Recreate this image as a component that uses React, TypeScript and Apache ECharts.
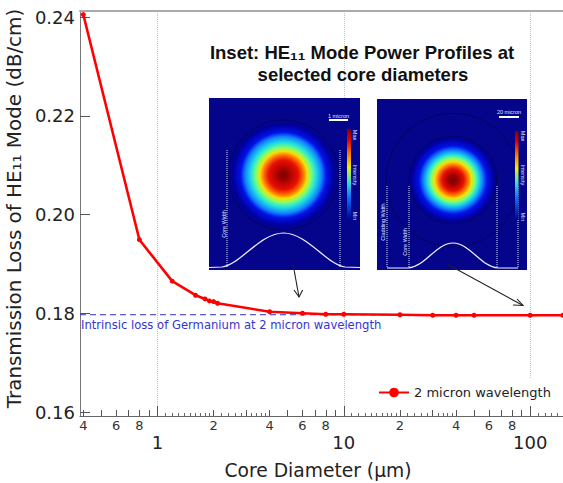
import React, { useEffect, useRef } from "react";
import * as echarts from "echarts";

const diameters = [0.4, 0.8, 1.2, 1.6, 1.8, 1.9, 2, 2.1, 4, 6, 8, 10, 20, 30, 40, 50, 100, 150];
const losses = [0.2405, 0.1949, 0.1865, 0.18365, 0.1829, 0.1825, 0.18237, 0.18203, 0.1803, 0.18, 0.1798, 0.1798, 0.1797, 0.1796, 0.1796, 0.1796, 0.1796, 0.1796];
const intrinsicX = [0.384, 150];
const intrinsicY = [0.1797, 0.1797];
const yTicks = [0.16, 0.18, 0.2, 0.22, 0.24];
const xMajor = [1, 10, 100];
const xLabelled = [0.4, 0.6, 0.8, 2, 4, 6, 8, 20, 40, 60, 80];
const xMedium = [0.4, 0.5, 0.6, 0.7, 0.8, 0.9, 2, 3, 4, 5, 6, 7, 8, 9, 20, 30, 40, 50, 60, 70, 80, 90];
const xShort = [
  1.1, 1.2, 1.3, 1.4, 1.5, 1.6, 1.7, 1.8, 1.9, 2.2, 2.4, 2.6, 2.8, 3.2, 3.4, 3.6, 3.8,
  11, 12, 13, 14, 15, 16, 17, 18, 19, 22, 24, 26, 28, 32, 34, 36, 38,
  110, 120, 130, 140,
];

const FONT = "DejaVu Sans";
const X_MIN = 0.384;
const X_MAX = 150;

const JET1: [number, string][] = [
  [0, "#780000"], [0.09, "#a00000"], [0.27, "#e81000"], [0.36, "#ff7000"], [0.43, "#f8e000"],
  [0.5, "#80ff70"], [0.59, "#20e0e0"], [0.7, "#1080ff"], [0.78, "#0010e8"], [0.92, "#00009a"], [1, "#05058c"],
];
const JET2: [number, string][] = [
  [0, "#780000"], [0.11, "#a00000"], [0.25, "#e81000"], [0.34, "#ff7000"], [0.42, "#f8e000"],
  [0.5, "#80ff70"], [0.58, "#20e0e0"], [0.68, "#1080ff"], [0.78, "#0010e8"], [0.95, "#00009a"], [1, "#05058c"],
];
const BAR_STOPS: [number, string][] = [
  [0, "#800000"], [0.12, "#e00000"], [0.28, "#ff8000"], [0.42, "#f0f000"],
  [0.58, "#40e0d0"], [0.75, "#1070ff"], [1, "#000090"],
];

echarts.graphic.registerShape(
  "profileA",
  echarts.graphic.extendPath(
    "M209 267.5 L222 267 C240 265 260 233 283.5 233 C307 233 327 265 345 267 L360 267.5",
    {}
  )
);
echarts.graphic.registerShape(
  "profileB",
  echarts.graphic.extendPath(
    "M387 268 L408 268 C425 267 436 243 453 243 C470 243 481 267 498 268 L518 268",
    {}
  )
);

const stops = (list: [number, string][]) => list.map(([offset, color]) => ({ offset, color }));
const rtext = (x: number, y: number, text: string, rotation: number, fontSize = 5.5) => ({
  type: "text",
  x,
  y,
  rotation,
  z: 31,
  style: { text, fill: "#dfe6ff", fontSize, fontFamily: "Liberation Sans", align: "center", verticalAlign: "middle" },
});
const vline = (x: number, y1: number, y2: number) => ({
  type: "line",
  z: 31,
  shape: { x1: x, y1, x2: x, y2 },
  style: { stroke: "#d8e0ff", lineWidth: 1, lineDash: [1, 1] },
});
const circleLine = (cx: number, cy: number, r: number) => ({
  type: "circle",
  z: 31,
  shape: { cx, cy, r },
  style: { fill: "none", stroke: "#03035f", lineWidth: 1 },
});
const box = (x: number, y: number, width: number, height: number) => ({
  type: "rect",
  z: 30,
  shape: { x, y, width, height },
  style: { fill: "#05058c" },
});
const blob = (cx: number, cy: number, r: number, list: [number, string][]) => ({
  type: "circle",
  z: 31,
  shape: { cx, cy, r },
  style: { fill: { type: "radial", x: 0.5, y: 0.5, r: 0.5, colorStops: stops(list) } },
});
const colorBar = (x: number, y: number, width: number, height: number) => ({
  type: "rect",
  z: 31,
  shape: { x, y, width, height },
  style: { fill: { type: "linear", x: 0, y: 0, x2: 0, y2: 1, colorStops: stops(BAR_STOPS) } },
});
const scaleBar = (x: number, y: number, width: number) => ({
  type: "rect",
  z: 31,
  shape: { x, y, width, height: 2 },
  style: { fill: "#ffffff" },
});
const arrow = (x1: number, y1: number, x2: number, y2: number, wing: number[]) => [
  { type: "line", z: 40, shape: { x1, y1, x2, y2 }, style: { stroke: "#222", lineWidth: 1.1 } },
  {
    type: "polyline",
    z: 40,
    shape: { points: [[wing[0], wing[1]], [x2, y2], [wing[2], wing[3]]] },
    style: { stroke: "#222", lineWidth: 1.1, fill: "none" },
  },
];

const hiddenX = {
  type: "log" as const,
  logBase: 10,
  min: X_MIN,
  max: X_MAX,
  position: "bottom" as const,
  splitLine: { show: false },
  minorTick: { show: false },
  minorSplitLine: { show: false },
  axisLine: { show: false },
  axisLabel: { show: false },
};

export default function App() {
  const ref = useRef<HTMLDivElement>(null);
  useEffect(() => {
    const chart = echarts.init(ref.current!, null, { renderer: "svg" });
    chart.setOption({
      animation: false,
      backgroundColor: "#ffffff",
      textStyle: { fontFamily: FONT },
      grid: { left: 80, right: 0, top: 11, bottom: 67, containLabel: false, outerBoundsMode: "none" },
      legend: {
        data: ["2 micron wavelength"],
        left: 373,
        top: 379,
        padding: [7, 10, 7, 5],
        itemWidth: 30,
        itemHeight: 12,
        backgroundColor: "#ffffff",
        textStyle: { fontSize: 13, color: "#222", fontFamily: FONT },
        z: 20,
      },
      xAxis: [
        {
          ...hiddenX,
          name: "Core Diameter (µm)",
          nameLocation: "middle",
          nameGap: 45,
          nameTextStyle: { fontSize: 18.7, color: "#222", fontFamily: FONT, padding: [0, 7, 0, 0] },
          axisLine: { show: true, lineStyle: { color: "#666", width: 1 } },
          axisTick: { show: true, inside: true, length: 10, customValues: xMajor, lineStyle: { color: "#555" } },
          axisLabel: {
            show: true,
            customValues: xMajor,
            margin: 17,
            fontSize: 18,
            color: "#222",
            fontFamily: FONT,
            formatter: (v: number) => String(Math.round(v)),
          },
          splitLine: { show: true, customValues: xMajor, lineStyle: { color: "#bcbcf0", type: [1, 1], width: 1 } },
        },
        {
          ...hiddenX,
          axisTick: { show: true, inside: true, length: 6, customValues: xMedium, lineStyle: { color: "#555" } },
          axisLabel: {
            show: true,
            customValues: xLabelled,
            margin: 3,
            fontSize: 13,
            color: "#333",
            fontFamily: FONT,
            hideOverlap: false,
            formatter: (v: number) => String(Number(v.toPrecision(1))).replace(/[0.]/g, ""),
          },
        },
        {
          ...hiddenX,
          axisTick: { show: true, inside: true, length: 3, customValues: xShort, lineStyle: { color: "#666" } },
        },
        {
          ...hiddenX,
          position: "top",
          axisTick: { show: false },
          axisLine: { show: true, lineStyle: { color: "#aaaaaa", width: 2 } },
        },
      ],
      yAxis: {
        type: "value",
        min: 0.15919,
        max: 0.24122,
        name: "Transmission Loss of HE₁₁ Mode (dB/cm)",
        nameLocation: "middle",
        nameGap: 48,
        nameTextStyle: { fontSize: 19.9, color: "#222", fontFamily: FONT, padding: [0, 0, 0, 10] },
        splitLine: { show: false },
        axisLine: { show: true, lineStyle: { color: "#777", width: 1 } },
        axisTick: { show: true, inside: true, length: 10, customValues: yTicks, lineStyle: { color: "#555" } },
        axisLabel: {
          customValues: yTicks,
          margin: 5,
          fontSize: 18,
          color: "#222",
          fontFamily: FONT,
          formatter: (v: number) => v.toFixed(2),
        },
      },
      series: [
        {
          name: "Intrinsic loss of Germanium",
          type: "line",
          xAxisIndex: 0,
          data: intrinsicX.map((x, i) => [x, intrinsicY[i]]),
          showSymbol: false,
          symbol: "none",
          lineStyle: { color: "#2f2fc4", width: 1, type: [6, 4] },
          z: 3,
        },
        {
          name: "2 micron wavelength",
          type: "line",
          xAxisIndex: 0,
          data: diameters.map((x, i) => [x, losses[i]]),
          symbol: "circle",
          symbolSize: 5,
          itemStyle: { color: "#ff0000" },
          lineStyle: { color: "#ff0000", width: 2.6 },
          z: 4,
        },
      ],
      graphic: {
        elements: [
          {
            type: "text",
            x: 362,
            y: 52,
            z: 35,
            style: {
              text: "Inset: HE₁₁ Mode Power Profiles at",
              fontFamily: "Liberation Sans",
              fontWeight: "bold",
              fontSize: 18.5,
              fill: "#111",
              align: "center",
              verticalAlign: "middle",
            },
          },
          {
            type: "text",
            x: 363,
            y: 74,
            z: 35,
            style: {
              text: "selected core diameters",
              fontFamily: "Liberation Sans",
              fontWeight: "bold",
              fontSize: 18.5,
              fill: "#111",
              align: "center",
              verticalAlign: "middle",
            },
          },
          {
            type: "text",
            x: 81,
            y: 325,
            z: 10,
            style: {
              text: "Intrinsic loss of Germanium at 2 micron wavelength",
              fontFamily: FONT,
              fontSize: 11.6,
              fill: "#3434d0",
              align: "left",
              verticalAlign: "middle",
            },
          },
          box(209, 98, 151, 172),
          blob(283.5, 175, 55, JET1),
          circleLine(283.5, 175, 55),
          vline(227, 150, 267),
          vline(340, 150, 267),
          colorBar(347, 129, 4, 91),
          scaleBar(329, 119, 19),
          rtext(338.5, 116, "1 micron", 0),
          rtext(355, 135, "Max", -Math.PI / 2),
          rtext(355, 175, "Intensity", -Math.PI / 2),
          rtext(355, 216, "Min", -Math.PI / 2),
          rtext(223.5, 224, "Core Width", Math.PI / 2),
          { type: "profileA", z: 32, style: { fill: "none", stroke: "#f2f2ff", lineWidth: 1.2 } },

          box(377, 99, 150, 171),
          blob(453, 180, 43.7, JET2),
          circleLine(453, 180, 43.7),
          circleLine(453, 180, 66.7),
          vline(387, 186, 268),
          vline(409, 186, 268),
          vline(497, 186, 268),
          vline(518, 186, 268),
          colorBar(515, 131, 3.5, 89),
          scaleBar(499, 116, 20),
          rtext(509, 112, "20 micron", 0),
          rtext(523, 136, "Max", -Math.PI / 2),
          rtext(523, 175, "Intensity", -Math.PI / 2),
          rtext(523, 217, "Min", -Math.PI / 2),
          rtext(405, 242, "Core Width", Math.PI / 2),
          rtext(382.5, 222, "Cladding Width", Math.PI / 2),
          { type: "profileB", z: 32, style: { fill: "none", stroke: "#f2f2ff", lineWidth: 1.2 } },

          ...arrow(293, 264, 299, 297, [294, 290, 302.7, 290]),
          ...arrow(447, 264, 523, 305.5, [513, 305, 517, 299]),
        ],
      },
    });
    return () => chart.dispose();
  }, []);
  return <div ref={ref} style={{ position: "fixed", left: 0, top: 0, width: 563, height: 483 }} />;
}
